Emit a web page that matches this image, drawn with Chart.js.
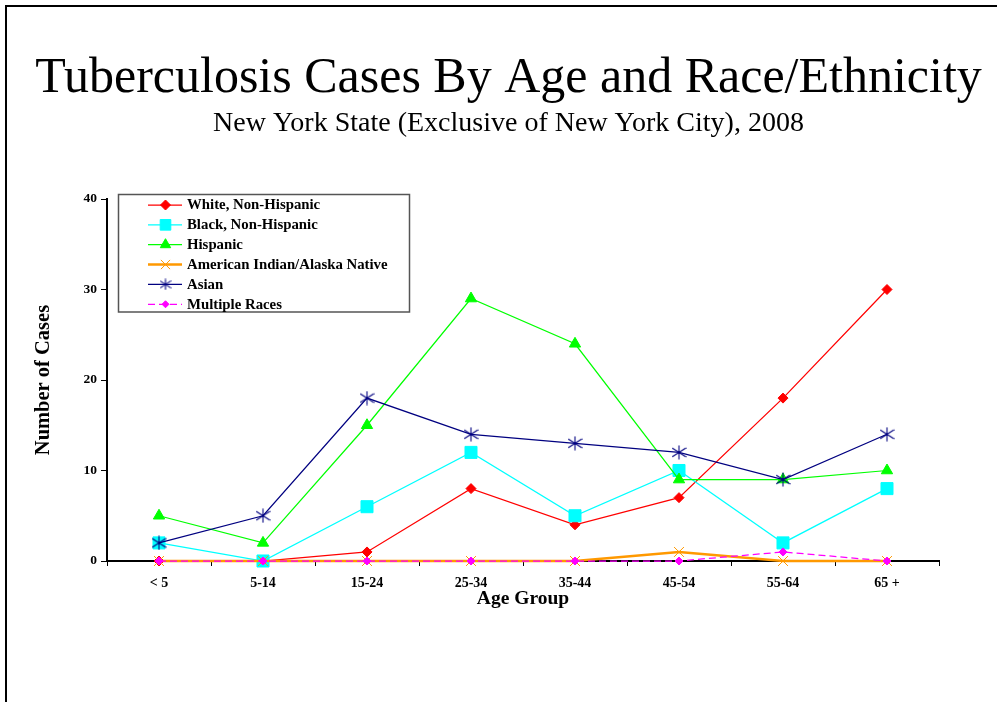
<!DOCTYPE html>
<html>
<head>
<meta charset="utf-8">
<script src="https://cdn.jsdelivr.net/npm/chart.js@4.4.1/dist/chart.umd.min.js"></script>
<style>
  html, body { margin: 0; padding: 0; background: #fff; overflow: hidden; }
  canvas { display: block; }
</style>
</head>
<body>
<canvas id="c" width="997" height="702"></canvas>
<script>
// ---- data ----
const CATEGORIES = ['< 5', '5-14', '15-24', '25-34', '35-44', '45-54', '55-64', '65 +'];
const WHITE_NH = [0, 0, 1, 8, 4, 7, 18, 30];
const BLACK_NH = [2, 0, 6, 12, 5, 10, 2, 8];
const HISPANIC = [5, 2, 15, 29, 24, 9, 9, 10];
const AIAN = [0, 0, 0, 0, 0, 1, 0, 0];
const ASIAN = [2, 5, 18, 14, 13, 12, 9, 14];
const MULTIPLE = [0, 0, 0, 0, 0, 0, 1, 0];
const SERIES_NAMES = ['White, Non-Hispanic', 'Black, Non-Hispanic', 'Hispanic',
  'American Indian/Alaska Native', 'Asian', 'Multiple Races'];
const Y_TICKS = [0, 10, 20, 30, 40];
const TITLE = 'Tuberculosis Cases By Age and Race/Ethnicity';
const SUBTITLE = 'New York State (Exclusive of New York City), 2008';
const X_TITLE = 'Age Group';
const Y_TITLE = 'Number of Cases';

const SERIF = "'Liberation Serif', 'Times New Roman', Times, serif";

// asterisk marker (vertical bar + X) for Asian series
function makeStar(color, w, h) {
  const c = document.createElement('canvas');
  c.width = w; c.height = h;
  const g = c.getContext('2d');
  g.strokeStyle = color; g.lineWidth = 1.1;
  g.beginPath();
  g.moveTo(w / 2, 0.5); g.lineTo(w / 2, h - 0.5);
  g.moveTo(0.5, h * 0.2); g.lineTo(w - 0.5, h * 0.8);
  g.moveTo(w - 0.5, h * 0.2); g.lineTo(0.5, h * 0.8);
  g.stroke();
  return c;
}
const STAR = makeStar('#000080', 15, 15);
const STAR_SMALL = makeStar('#000080', 12, 12);

const seriesStyles = [
  { color: '#FF0000', pointStyle: 'rectRot', radius: 5, width: 1.25, dash: [] },
  { color: '#00FFFF', pointStyle: 'rect', radius: 8.5, width: 1.25, dash: [] },
  { color: '#00FF00', pointStyle: 'triangle', radius: 6.5, width: 1.25, dash: [] },
  { color: '#FF9900', pointStyle: 'crossRot', radius: 7, width: 2.5, dash: [], pointBorder: 1 },
  { color: '#000080', pointStyle: STAR, radius: 8, width: 1.25, dash: [] },
  { color: '#FF00FF', pointStyle: 'rectRot', radius: 4, width: 1.25, dash: [7, 4] }
];
const legendMarkers = ['rectRot', 'rect', 'triangle', 'crossRot', STAR_SMALL, 'rectRot'];
const legendRadius = [5, 7.5, 6, 6.5, 6, 3.5];
const seriesData = [WHITE_NH, BLACK_NH, HISPANIC, AIAN, ASIAN, MULTIPLE];

const datasets = seriesData.map((d, i) => {
  const s = seriesStyles[i];
  return {
    label: SERIES_NAMES[i],
    data: d,
    borderColor: s.color,
    backgroundColor: s.color,
    borderWidth: s.width,
    borderDash: s.dash,
    pointStyle: s.pointStyle,
    pointRadius: s.radius,
    pointBorderWidth: s.pointBorder || 1,
    pointBackgroundColor: s.color,
    pointBorderColor: s.color,
    tension: 0,
    fill: false,
    clip: false,
    order: seriesData.length - 1 - i
  };
});

function drawMarker(ctx, style, r, x, y, color, bw) {
  ctx.save();
  ctx.fillStyle = color; ctx.strokeStyle = color; ctx.lineWidth = bw || 1;
  ctx.setLineDash([]);
  if (typeof style === 'object') {
    ctx.drawImage(style, x - style.width / 2, y - style.height / 2);
    ctx.restore();
    return;
  }
  ctx.beginPath();
  if (style === 'rectRot') {
    ctx.moveTo(x - r, y); ctx.lineTo(x, y - r); ctx.lineTo(x + r, y); ctx.lineTo(x, y + r); ctx.closePath();
    ctx.fill(); ctx.stroke();
  } else if (style === 'rect') {
    const s = r * Math.SQRT1_2;
    ctx.rect(x - s, y - s, 2 * s, 2 * s); ctx.fill(); ctx.stroke();
  } else if (style === 'triangle') {
    ctx.moveTo(x, y - r);
    ctx.lineTo(x + r * Math.sin(2 * Math.PI / 3), y - r * Math.cos(2 * Math.PI / 3));
    ctx.lineTo(x - r * Math.sin(2 * Math.PI / 3), y - r * Math.cos(2 * Math.PI / 3));
    ctx.closePath(); ctx.fill(); ctx.stroke();
  } else if (style === 'crossRot') {
    const s = r * Math.SQRT1_2;
    ctx.moveTo(x - s, y - s); ctx.lineTo(x + s, y + s);
    ctx.moveTo(x + s, y - s); ctx.lineTo(x - s, y + s);
    ctx.stroke();
  }
  ctx.restore();
}

const framePlugin = {
  id: 'frame',
  beforeDraw(chart) {
    const ctx = chart.ctx;
    ctx.save();
    ctx.fillStyle = '#fff';
    ctx.fillRect(0, 0, chart.width, chart.height);
    ctx.strokeStyle = '#000';
    ctx.lineWidth = 2;
    ctx.strokeRect(6, 6, 3000, 3000);
    ctx.restore();
  }
};

// empty right-hand layout box, keeps the plot area narrower than the titles
const rightSpacerPlugin = {
  id: 'rightSpacer',
  start(chart) {
    const box = {
      position: 'right', weight: 0, fullSize: false,
      options: { position: 'right', weight: 0, fullSize: false },
      width: 58, height: 0, left: 0, top: 0, right: 0, bottom: 0,
      update(maxWidth, maxHeight) { this.width = 58; this.height = maxHeight; },
      isHorizontal() { return false; },
      getPadding() { return { left: 0, top: 0, right: 0, bottom: 0 }; },
      draw() {}
    };
    Chart.layouts.addBox(chart, box);
  }
};

const legendBoxPlugin = {
  id: 'legendBox',
  afterDatasetsDraw(chart) {
    const ctx = chart.ctx;
    const box = { x: 118.5, y: 194.5, w: 291, h: 117.5 };
    ctx.save();
    ctx.fillStyle = '#fff';
    ctx.fillRect(box.x, box.y, box.w, box.h);
    ctx.strokeStyle = '#555';
    ctx.lineWidth = 1.5;
    ctx.strokeRect(box.x, box.y, box.w, box.h);
    chart.data.datasets.forEach((ds, i) => {
      const y = 205 + i * 19.85;
      ctx.save();
      ctx.strokeStyle = ds.borderColor;
      ctx.lineWidth = ds.borderWidth;
      ctx.setLineDash(ds.borderDash || []);
      ctx.beginPath();
      ctx.moveTo(148, y); ctx.lineTo(182, y);
      ctx.stroke();
      ctx.restore();
      drawMarker(ctx, legendMarkers[i], legendRadius[i], 165.5, y, ds.pointBackgroundColor, ds.pointBorderWidth);
      ctx.fillStyle = '#000';
      ctx.font = 'bold 14.8px ' + SERIF;
      ctx.textBaseline = 'middle';
      ctx.textAlign = 'left';
      ctx.fillText(ds.label, 187, y + 0.5);
    });
    ctx.restore();
  }
};

Chart.defaults.font.family = SERIF;
Chart.defaults.color = '#000';

new Chart(document.getElementById('c'), {
  type: 'line',
  data: { labels: CATEGORIES, datasets },
  plugins: [framePlugin, rightSpacerPlugin, legendBoxPlugin],
  options: {
    responsive: false,
    devicePixelRatio: 1,
    animation: false,
    events: [],
    layout: { padding: { top: 54, left: 20, right: 0, bottom: 0 } },
    plugins: {
      legend: { display: false },
      tooltip: { enabled: false },
      title: {
        display: true, text: TITLE, color: '#000',
        font: { size: 50, weight: 'normal', lineHeight: 1 },
        padding: { top: 0, bottom: 0 }
      },
      subtitle: {
        display: true, text: SUBTITLE, color: '#000',
        font: { size: 28, weight: 'normal', lineHeight: 1 },
        padding: { top: 6, bottom: 61 }
      }
    },
    scales: {
      x: {
        type: 'category',
        offset: true,
        grid: { offset: true, drawOnChartArea: false, drawTicks: true, tickLength: 5, color: '#000', lineWidth: 1 },
        border: { display: true, color: '#000', width: 2 },
        ticks: { color: '#000', font: { size: 14, weight: 'bold' }, padding: 9, maxRotation: 0, autoSkip: false },
        title: {
          display: true, text: X_TITLE, color: '#000',
          font: { size: 19.5, weight: 'bold', lineHeight: 1 },
          padding: { top: 0, bottom: 93.5 }
        },
        afterFit(s) { s.height = 141; }
      },
      y: {
        min: 0, max: 40,
        grid: { drawOnChartArea: false, drawTicks: true, tickLength: 6, color: '#000', lineWidth: 1 },
        border: { display: true, color: '#000', width: 2 },
        ticks: { color: '#000', font: { size: 13.5, weight: 'bold' }, padding: 4 },
        afterBuildTicks(s) { s.ticks = Y_TICKS.map(v => ({ value: v })); },
        title: {
          display: true, text: Y_TITLE, color: '#000',
          font: { size: 20.5, weight: 'bold', lineHeight: 1 },
          padding: { top: 13, bottom: 0 }
        },
        afterFit(s) { s.width = 87; }
      }
    }
  }
});
</script>
</body>
</html>
